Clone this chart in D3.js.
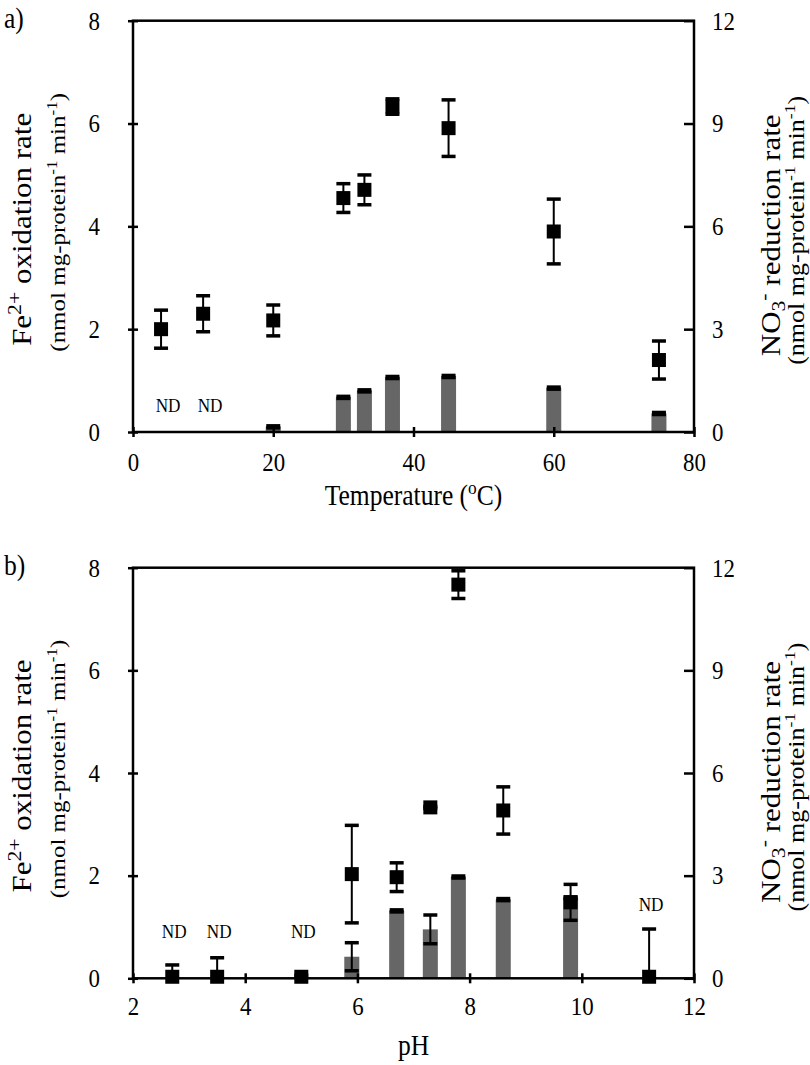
<!DOCTYPE html>
<html><head><meta charset="utf-8">
<script src="https://cdn.jsdelivr.net/npm/d3@7"></script>
<style>
body{margin:0;background:#fff}
text{font-family:"Liberation Serif","Times New Roman",serif;fill:#000}
</style>
</head><body>
<svg id="chart" width="810" height="1065"></svg>
<script>
// ---------- Panel a: temperature ----------
const tempA      = [4, 10, 20, 30, 33, 37, 45, 60, 75];
const feA        = [2.00, 2.30, 2.17, 4.55, 4.71, 6.33, 5.91, 3.90, 1.40];
const feErrA     = [0.37, 0.35, 0.30, 0.28, 0.29, 0.15, 0.55, 0.63, 0.37];
const tempBarA   = [20, 30, 33, 37, 45, 60, 75];
const no3A       = [0.15, 1.01, 1.20, 1.59, 1.62, 1.28, 0.54];
const no3ErrA    = [0.03, 0.03, 0.03, 0.03, 0.03, 0.03, 0.03];
const ndA        = [4, 10];
const xTicksA    = [0, 20, 40, 60, 80];

// ---------- Panel b: pH ----------
const phB        = [2.7, 3.5, 5.0, 5.9, 6.7, 7.3, 7.8, 8.6, 9.8, 11.2];
const feB        = [0.03, 0.03, 0.03, 2.03, 1.97, 3.33, 7.67, 3.27, 1.48, 0.03];
const feErrB     = [0.23, 0.37, 0.03, 0.95, 0.28, 0.02, 0.27, 0.46, 0.35, 0.93];
const phBarB     = [5.9, 6.7, 7.3, 7.8, 8.6, 9.8];
const no3B       = [0.63, 1.97, 1.43, 2.96, 2.30, 2.35];
const no3ErrB    = [0.41, 0.03, 0.42, 0.03, 0.03, 0.03];
const ndB        = [2.7, 3.5, 5.0, 11.2];
const ndLevelB   = [0, 0, 0, 1];
const xTicksB    = [2, 4, 6, 8, 10, 12];

const leftTicks  = [0, 2, 4, 6, 8];
const rightTicks = [0, 3, 6, 9, 12];

const svg = d3.select("#chart");
const X0 = 133, X1 = 694;
const SX = 0.88;   // horizontal glyph compression seen in the reference

function squeeze(sel) {
  sel.each(function () {
    const t = d3.select(this);
    const x = parseFloat(t.attr("x")) || 0, y = parseFloat(t.attr("y")) || 0;
    t.attr("transform", `translate(${x},${y}) scale(${SX},1) translate(${-x},${-y})`);
  });
}

function rich(sel, parts, fs, k) {
  k = k || 0.68;
  let shift = 0;
  parts.forEach(([t, type]) => {
    const ts = sel.append("tspan").text(t);
    let target = 0, size = fs;
    if (type === "sup") { target = -0.38 * fs; size = fs * k; }
    if (type === "sub") { target = 0.18 * fs; size = fs * k; }
    ts.attr("font-size", size).attr("dy", target - shift);
    shift = target;
  });
}

function vlabel(g, cx, cy, fs, parts, k) {
  const t = g.append("text")
    .attr("transform", `translate(${cx},${cy}) scale(${SX},1) rotate(-90)`)
    .attr("text-anchor", "middle").attr("font-size", fs);
  rich(t, parts, fs, k);
}

function panel(cfg) {
  const g = svg.append("g");
  const x = d3.scaleLinear().domain(cfg.xDomain).range([X0, X1]);
  const yL = d3.scaleLinear().domain([0, 8]).range([cfg.bottom, cfg.top]);
  const yR = d3.scaleLinear().domain([0, 12]).range([cfg.bottom, cfg.top]);

  const bw = 15;
  g.selectAll("rect.bar").data(cfg.barX).enter().append("rect")
    .attr("x", (d) => x(d) - bw / 2)
    .attr("y", (d, i) => yR(cfg.barV[i]))
    .attr("width", bw)
    .attr("height", (d, i) => cfg.bottom - yR(cfg.barV[i]))
    .attr("fill", "#666666");

  function errBars(xs, vs, es, ys) {
    xs.forEach((xv, i) => {
      const hi = vs[i] + es[i], lo = Math.max(0, vs[i] - es[i]);
      const cx = x(xv);
      g.append("line").attr("x1", cx).attr("x2", cx)
        .attr("y1", ys(hi)).attr("y2", ys(lo))
        .attr("stroke", "#000").attr("stroke-width", 2);
      g.append("line").attr("x1", cx - 7).attr("x2", cx + 7)
        .attr("y1", ys(hi)).attr("y2", ys(hi))
        .attr("stroke", "#000").attr("stroke-width", 3.5);
      if (vs[i] - es[i] > 0)
        g.append("line").attr("x1", cx - 7).attr("x2", cx + 7)
          .attr("y1", ys(lo)).attr("y2", ys(lo))
          .attr("stroke", "#000").attr("stroke-width", 3.5);
    });
  }
  errBars(cfg.barX, cfg.barV, cfg.barE, yR);
  errBars(cfg.ptX, cfg.ptV, cfg.ptE, yL);

  const s = 14;
  g.selectAll("rect.pt").data(cfg.ptX).enter().append("rect")
    .attr("x", (d) => x(d) - s / 2)
    .attr("y", (d, i) => yL(cfg.ptV[i]) - s / 2)
    .attr("width", s).attr("height", s).attr("fill", "#000");

  cfg.nd.forEach((v, i) => {
    g.append("text").attr("x", x(v) + cfg.ndDx)
      .attr("y", cfg.bottom - cfg.ndRise[i])
      .attr("text-anchor", "middle").attr("font-size", 19.5).text("ND")
      .call(squeeze);
  });

  const ax = g.append("g").attr("transform", `translate(0,${cfg.bottom})`)
    .call(d3.axisBottom(x).tickValues(cfg.xTicks).tickSize(5).tickSizeOuter(0).tickPadding(cfg.xPad));
  ax.selectAll(".tick line").attr("y1", -5);
  const al = g.append("g").attr("transform", `translate(${X0},0)`)
    .call(d3.axisLeft(yL).tickValues(leftTicks).tickSize(5).tickSizeOuter(0).tickPadding(28));
  al.selectAll(".tick line").attr("x1", 5);
  const ar = g.append("g").attr("transform", `translate(${X1},0)`)
    .call(d3.axisRight(yR).tickValues(rightTicks).tickSize(-10).tickSizeOuter(0).tickPadding(18));
  [ax, al, ar].forEach(a => {
    a.select(".domain").remove();
    a.selectAll(".tick line").attr("stroke", "#000").attr("stroke-width", 2.5);
    a.selectAll("text").attr("font-size", 26).attr("font-family", "Liberation Serif").attr("fill", "#000");
  });
  ar.selectAll("text").attr("text-anchor", "start").attr("x", 18);
  [ax, al, ar].forEach(a => a.selectAll("text").call(squeeze));

  g.append("rect").attr("x", X0).attr("y", cfg.top).attr("width", X1 - X0)
    .attr("height", cfg.bottom - cfg.top).attr("fill", "none")
    .attr("stroke", "#000").attr("stroke-width", 2.5);

  g.append("text").attr("x", 4).attr("y", cfg.top + 7).attr("font-size", 29).text(cfg.label)
    .call(squeeze);

  const xt = g.append("text").attr("x", (X0 + X1) / 2).attr("y", cfg.xTitleY)
    .attr("text-anchor", "middle").attr("font-size", 29);
  rich(xt, cfg.xTitle, 29);
  xt.call(squeeze);

  const cy = (cfg.top + cfg.bottom) / 2;
  vlabel(g, 31, cy + 3, 31, [["Fe", ""], ["2+", "sup"], [" oxidation rate", ""]], 0.7);
  vlabel(g, 65, cy - 4, 25, [["(nmol mg-protein", ""], ["-1", "sup"], [" min", ""], ["-1", "sup"], [")", ""]]);
  vlabel(g, 780, cy + 9, 31, [["NO", ""], ["3", "sub"], ["-", "sup"], [" reduction rate", ""]], 0.7);
  vlabel(g, 804, cy + 4, 26, [["(nmol mg-protein", ""], ["-1", "sup"], [" min", ""], ["-1", "sup"], [")", ""]]);
}

panel({
  label: "a)", top: 20.7, bottom: 432, xDomain: [0, 80], xTicks: xTicksA, xPad: 15.5,
  xTitle: [["Temperature (", ""], ["o", "sup"], ["C)", ""]], xTitleY: 505,
  barX: tempBarA, barV: no3A, barE: no3ErrA,
  ptX: tempA, ptV: feA, ptE: feErrA,
  nd: ndA, ndRise: ndA.map(() => 20), ndDx: 7
});
panel({
  label: "b)", top: 567.7, bottom: 978.3, xDomain: [2, 12], xTicks: xTicksB, xPad: 13.5,
  xTitle: [["pH", ""]], xTitleY: 1055,
  barX: phBarB, barV: no3B, barE: no3ErrB,
  ptX: phB, ptV: feB, ptE: feErrB,
  nd: ndB, ndRise: ndLevelB.map(l => l ? 67 : 40), ndDx: 2
});
</script>
</body></html>
